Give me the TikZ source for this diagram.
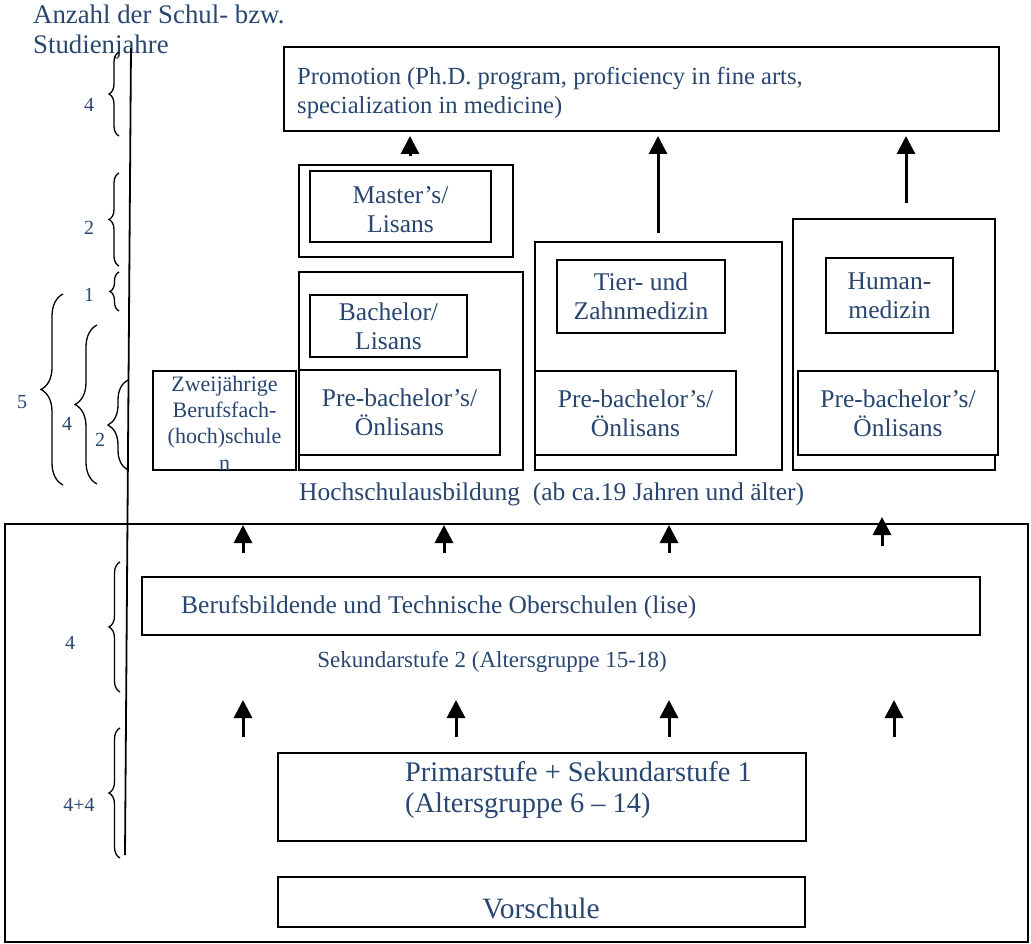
\documentclass[tikz,border=0pt]{standalone}
\usepackage{fontspec}
\setmainfont{Liberation Serif}
\usetikzlibrary{arrows.meta,decorations.pathreplacing}
\definecolor{txt}{RGB}{40,70,112}
\begin{document}
\begin{tikzpicture}[x=1pt,y=-1pt,
  box/.style={draw, line width=1.8pt, fill=white, inner sep=0pt, align=center, text=txt,
    font=\fontsize{25.5}{29}\selectfont},
  lbl/.style={text=txt, inner sep=0pt, font=\fontsize{25.5}{29}\selectfont},
  num/.style={text=txt, inner sep=0pt, font=\fontsize{20}{24}\selectfont},
  brc/.style={decorate, decoration={brace, amplitude=#1}, line width=1.3pt},
  arr/.style={line width=3pt, -{Triangle[width=18pt,length=18pt]}},
]
\useasboundingbox (0,0) rectangle (1031,944);

% title
\node[lbl, anchor=north west, align=left, font=\fontsize{26.8}{30}\selectfont] (title) at (33,5)
  {Anzahl der Schul- bzw.\\Studienjahre};

% years axis
\draw[line width=1.8pt] (131,48) -- (125,855);

% braces and numbers
\draw[brc=10] (119,136) -- (119,52);
\node[num] (n1) at (89,105) {4};
\draw[brc=10] (119,266) -- (119,173);
\node[num] (n2) at (89,228) {2};
\draw[brc=9] (119,311) -- (119,272);
\node[num] (n3) at (89,295) {1};
\draw[brc=22] (63,485) -- (63,294);
\node[num] (n4) at (22,402) {5};
\draw[brc=22] (97,484) -- (97,325);
\node[num] (n5) at (67,424) {4};
\draw[brc=20] (128,470) -- (128,380);
\node[num] (n6) at (100,440) {2};
\draw[brc=11] (120,692) -- (120,562);
\node[num] (n7) at (70,643) {4};
\draw[brc=11] (120,858) -- (120,728);
\node[num] (n8) at (79,805) {4+4};

% higher education
\node[box, minimum width=715pt, minimum height=84pt] (promo) at (641.5,89) {};
\node[lbl, anchor=west, align=left, font=\fontsize{24.6}{29}\selectfont] (promotext) at (297,93)
  {Promotion (Ph.D. program, proficiency in fine arts,\\specialization in medicine)};

\node[box, minimum width=214pt, minimum height=92pt] (mout) at (406,211) {};
\node[box, minimum width=181pt, minimum height=71pt] (master) at (400.5,206.5) {};
\node[lbl, align=center] (mastertext) at (400.5,210) {Master’s/\\Lisans};

\node[box, minimum width=224pt, minimum height=198pt] (bout) at (411,371) {};
\node[box, minimum width=157pt, minimum height=62pt] (bach) at (388.5,326) {Bachelor/\\Lisans};
\node[box, minimum width=201pt, minimum height=85pt] (pre1) at (399.5,412.5) {Pre-bachelor’s/\\Önlisans};

\node[box, minimum width=143pt, minimum height=99pt] (zwei) at (224.5,420.5) {};
\node[lbl, align=center, font=\fontsize{22}{26.3}\selectfont] (zweitext) at (224.5,423)
  {Zweijährige\\Berufsfach-\\(hoch)schule\\n};

\node[box, minimum width=247pt, minimum height=228pt] (tout) at (658.5,356) {};
\node[box, minimum width=168pt, minimum height=73pt] (tier) at (641,296.5) {Tier- und\\Zahnmedizin};
\node[box, minimum width=201pt, minimum height=84pt] (pre2) at (635.5,413) {Pre-bachelor’s/\\Önlisans};

\node[box, minimum width=202pt, minimum height=251pt] (hout) at (894,344.5) {};
\node[box, minimum width=127pt, minimum height=75pt] (human) at (889.5,295.5) {Human-\\medizin};
\node[box, minimum width=200pt, minimum height=84pt] (pre3) at (898,413) {Pre-bachelor’s/\\Önlisans};

\node[lbl, anchor=west, font=\fontsize{25.5}{29}\selectfont] (hoch) at (299,494)
  {Hochschulausbildung\ \ (ab ca.19 Jahren und älter)};

% school system
\node[box, fill=none, minimum width=1023pt, minimum height=418pt] (big) at (516.5,733) {};
\node[box, minimum width=838pt, minimum height=58pt] (beruf) at (561,606) {};
\node[lbl, anchor=west] (beruftext) at (181,607) {Berufsbildende und Technische Oberschulen (lise)};
\node[lbl, font=\fontsize{23}{28}\selectfont] (sek) at (492,662) {Sekundarstufe 2 (Altersgruppe 15-18)};

\node[box, minimum width=528pt, minimum height=88pt] (primar) at (542,797) {};
\node[lbl, anchor=west, align=left, font=\fontsize{28.4}{31}\selectfont] (primartext) at (405,790)
  {Primarstufe + Sekundarstufe 1\\(Altersgruppe 6 – 14)};

\node[box, minimum width=527pt, minimum height=50pt] (vor) at (541.5,902) {};
\node[lbl, font=\fontsize{29.5}{31}\selectfont] (vortext) at (541,908) {Vorschule};

% arrows
\coordinate (a1s) at (410,156); \coordinate (a1e) at (410,136);
\coordinate (a2s) at (658,233); \coordinate (a2e) at (658,136);
\coordinate (a3s) at (906,203); \coordinate (a3e) at (906,136);
\draw[arr] (a1s) -- (a1e);
\draw[arr] (a2s) -- (a2e);
\draw[arr] (a3s) -- (a3e);

\coordinate (r1a) at (243,553); \coordinate (r1ae) at (243,525);
\coordinate (r1b) at (444,553); \coordinate (r1be) at (444,525);
\coordinate (r1c) at (669,553); \coordinate (r1ce) at (669,525);
\coordinate (r1d) at (882,546); \coordinate (r1de) at (882,517);
\draw[arr] (r1a) -- (r1ae);
\draw[arr] (r1b) -- (r1be);
\draw[arr] (r1c) -- (r1ce);
\draw[arr] (r1d) -- (r1de);

\coordinate (r2a) at (243,737); \coordinate (r2ae) at (243,700);
\coordinate (r2b) at (456,737); \coordinate (r2be) at (456,700);
\coordinate (r2c) at (669,737); \coordinate (r2ce) at (669,700);
\coordinate (r2d) at (894,737); \coordinate (r2de) at (894,700);
\draw[arr] (r2a) -- (r2ae);
\draw[arr] (r2b) -- (r2be);
\draw[arr] (r2c) -- (r2ce);
\draw[arr] (r2d) -- (r2de);
\end{tikzpicture}
\end{document}
